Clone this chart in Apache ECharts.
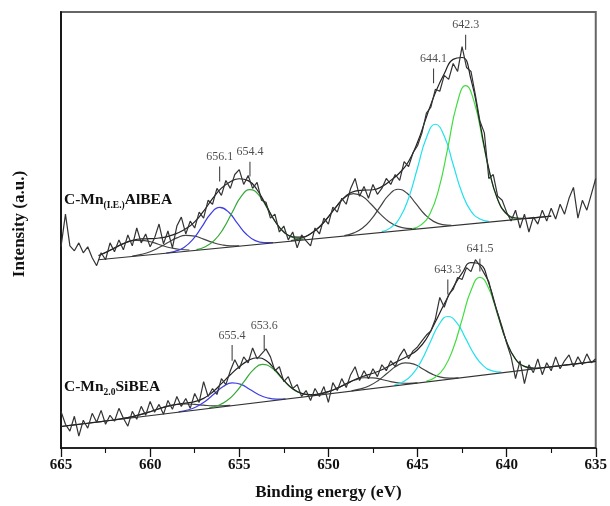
<!DOCTYPE html>
<html>
<head>
<meta charset="utf-8">
<script src="https://cdn.jsdelivr.net/npm/echarts@6/dist/echarts.min.js"></script>
<style>html,body{margin:0;padding:0;background:#fff;}#chart{width:610px;height:506px;}</style>
</head>
<body>
<div id="chart"></div>
<script>
// ---------- data (intensity in arbitrary units, binding energy in eV) ----------
const xTicks = [665, 660, 655, 650, 645, 640, 635];
const rawStart = 665, rawStep = 0.25;
const rawTop = [
  203, 236, 204, 199,  207, 197, 203, 192,  184, 197, 190, 207,  198, 210, 200, 215,
  204, 222, 207, 216,  203, 212, 226, 206,  219, 202, 224, 233,  216, 229, 222, 238,
  232, 250, 246, 262,  255, 270, 262, 276,  281, 266, 275, 262,  268, 250, 248, 232,
  236, 218, 224, 210,  218, 202, 215, 209,  204, 222, 216, 232,  226, 243, 238, 252,
  246, 262, 272, 254,  264, 252, 266, 256,  262, 272, 266, 276,  270, 289, 284, 298,
  305, 318, 338, 344,  362, 360, 376, 372,  388, 380, 405, 384,  380, 356, 330, 318,
  272, 276, 254, 250,  238, 229, 240, 222,  236, 218, 233, 226,  240, 229, 242, 231,
  246, 236, 252, 263,  232, 250, 240, 256,  272
];
const rawBottom = [
  37, 24, 17, 32,  12, 28, 20, 35,  26, 38, 24, 33,  27, 40, 30, 22,
  37, 29, 42, 33,  47, 36, 44, 34,  48, 39, 52, 42,  50, 40, 55, 46,
  67, 52, 60, 54,  70, 64, 78, 89,  80, 92, 86, 101, 90, 95, 100, 92,
  78, 82, 67, 72,  60, 64, 52, 58,  48, 60, 52, 62,  46, 66, 58, 70,
  61, 74, 82, 68,  78, 70, 80, 72,  84, 78, 88, 82,  93, 100, 90, 98,
  102, 108, 114, 118,  130, 152, 142, 155,  160, 172, 170, 182,  178, 190, 184, 176,
  168, 150, 136, 122,  106, 92, 70, 88,  65, 84, 76, 90,  74, 86, 78, 92,
  80, 88, 94, 82,  92, 84, 95, 86,  90
];
// linear backgrounds
const baseTop = [[662.9, 190], [637.5, 234]];
const baseBottom = [[665, 21.7], [635, 87.4]];
// fitted envelopes
const envTop = [[662.9,194.1],[662.5,197.3],[662,201.9],[661.5,206.3],[661,209.5],[660.5,211.0],[660,211.2],[659.5,211.9],[659,213.6],[658.5,216.6],[658,221.2],[657.5,228.2],[657,239.0],[656.5,251.6],[656,262.2],[655.5,268.7],[655,271.7],[654.5,269.8],[654,260.6],[653.5,245.1],[653,229.1],[652.5,218.0],[652,213.1],[651.5,212.8],[651,216.3],[650.5,223.2],[650,233.3],[649.5,244.9],[649,254.5],[648.5,259.3],[648,260.2],[647.5,260.6],[647,263.8],[646.5,270.1],[646,277.8],[645.5,289.2],[645,308.5],[644.5,334.1],[644,358.4],[643.5,377.7],[643,392.2],[642.5,394.1],[642,372.0],[641.5,328.1],[641,282.0],[640.5,250.8],[640,236.4],[639.5,232.1],[639,231.7],[638.5,232.2],[638,233.1],[637.5,234.0]];
const envBottom = [[665,21.7],[664.5,22.8],[664,23.9],[663.5,25.0],[663,26.1],[662.5,27.3],[662,28.5],[661.5,29.9],[661,31.7],[660.5,33.9],[660,36.6],[659.5,39.6],[659,42.2],[658.5,44.1],[658,45.3],[657.5,46.8],[657,50.1],[656.5,56.3],[656,64.9],[655.5,73.9],[655,81.9],[654.5,88.2],[654,91.1],[653.5,88.2],[653,79.4],[652.5,68.5],[652,59.8],[651.5,55.1],[651,53.8],[650.5,54.7],[650,56.9],[649.5,60.4],[649,64.8],[648.5,69.1],[648,72.6],[647.5,75.4],[647,78.9],[646.5,83.7],[646,88.6],[645.5,93.1],[645,99.2],[644.5,110.3],[644,127.2],[643.5,145.4],[643,161.9],[642.5,176.5],[642,187.0],[641.5,185.5],[641,166.1],[640.5,135.5],[640,107.3],[639.5,89.7],[639,82.4],[638.5,80.6],[638,81.0],[637.5,81.9],[637,83.0],[636.5,84.1],[636,85.2],[635.5,86.3],[635,87.4]];
// fitted components, C-Mn(I.E.)AlBEA
const topGray1 = [[662.8,194.9],[662.3,199.0],[661.8,203.7],[661.3,207.6],[660.8,209.6],[660.3,209.3],[659.8,207.2],[659.3,204.2],[658.8,201.8],[658.3,200.3],[657.8,199.8]];
const topGray2 = [[661,193.7],[660.5,195.4],[660,198.1],[659.5,202.3],[659,207.4],[658.5,212.0],[658,214.5],[657.5,213.8],[657,210.8],[656.5,207.5],[656,205.1],[655.5,204.0],[655,204.1]];
const topBlue = [[659.1,196.8],[658.6,198.5],[658.1,202.4],[657.6,210.5],[657.1,223.1],[656.6,236.4],[656.1,242.8],[655.6,238.1],[655.1,226.6],[654.6,215.7],[654.1,209.3],[653.6,207.2],[653.1,207.2]];
const topGreen1 = [[657.4,200.2],[656.9,203.1],[656.4,209.5],[655.9,221.1],[655.4,237.6],[654.9,253.6],[654.4,260.7],[653.9,255.3],[653.4,241.1],[652.9,226.3],[652.4,216.4],[651.9,211.8],[651.4,210.6]];
const topGray3 = [[652.1,209.2],[651.6,211.3],[651.1,215.0],[650.6,221.5],[650.1,231.1],[649.6,242.5],[649.1,252.4],[648.6,256.8],[648.1,254.1],[647.6,246.0],[647.1,236.3],[646.6,228.4],[646.1,223.7],[645.6,221.7],[645.1,221.3]];
const topGray4 = [[649.1,214.4],[648.6,216.9],[648.1,221.7],[647.6,230.7],[647.1,243.4],[646.6,255.5],[646.1,261.1],[645.6,257.3],[645.1,246.8],[644.6,235.9],[644.1,228.7],[643.6,225.5],[643.1,224.8]];
const topCyan = [[647,218.4],[646.5,222.4],[646,232.1],[645.5,252.1],[645,282.6],[644.5,313.1],[644,326.7],[643.5,314.8],[643,286.1],[642.5,257.3],[642,239.0],[641.5,231.1],[641,228.8]];
const topGreen2 = [[645.3,221.3],[644.8,225.2],[644.3,236.3],[643.8,261.7],[643.3,302.9],[642.8,346.2],[642.3,365.7],[641.8,347.9],[641.3,306.4],[640.8,266.9],[640.3,243.2],[639.8,233.9],[639.3,231.7]];
// fitted components, C-Mn2.0SiBEA
const botGray1 = [[661.5,29.9],[661,31.7],[660.5,33.9],[660,36.6],[659.5,39.6],[659,42.2],[658.5,43.9],[658,44.4],[657.5,44.0],[657,43.2],[656.5,42.6],[656,42.6],[655.5,43.0]];
const botBlue = [[658.4,36.5],[657.9,38.3],[657.4,41.7],[656.9,47.2],[656.4,54.7],[655.9,62.0],[655.4,65.7],[654.9,64.2],[654.4,59.1],[653.9,53.8],[653.4,50.5],[652.9,49.3],[652.4,49.6]];
const botGreen1 = [[656.7,40.4],[656.2,42.9],[655.7,47.6],[655.2,56.1],[654.7,67.8],[654.2,79.1],[653.7,84.4],[653.2,81.2],[652.7,72.1],[652.2,62.6],[651.7,56.3],[651.2,53.8],[650.7,53.5]];
const botGray2 = [[651,52.7],[650.5,54.4],[650,56.9],[649.5,60.4],[649,64.7],[648.5,68.6],[648,70.9],[647.5,70.8],[647,69.1],[646.5,67.0],[646,65.6],[645.5,65.3],[645,65.8]];
const botGray3 = [[648.7,57.7],[648.2,59.6],[647.7,62.8],[647.2,68.2],[646.7,75.4],[646.2,82.4],[645.7,86.0],[645.2,84.6],[644.7,79.8],[644.2,74.8],[643.7,71.5],[643.2,70.5],[642.7,70.8]];
const botCyan = [[646.3,63.5],[645.8,66.8],[645.3,74.1],[644.8,87.4],[644.3,106.2],[643.8,124.4],[643.3,132.7],[642.8,126.6],[642.3,110.6],[641.8,94.0],[641.3,82.9],[640.8,77.8],[640.3,76.6]];
const botGreen2 = [[644.5,67.5],[644,71.5],[643.5,81.0],[643,100.4],[642.5,129.6],[642,158.9],[641.5,172.2],[641,160.9],[640.5,134.0],[640,107.0],[639.5,89.7],[639,82.4],[638.5,80.6]];
// peak annotations
const annE    = [656.1, 654.4, 644.1, 642.3, 655.4, 653.6, 643.3, 641.5];
const annText = ['656.1', '654.4', '644.1', '642.3', '655.4', '653.6', '643.3', '641.5'];
const annLow  = [269, 274, 368, 402, 88, 99, 155, 178];
const annHigh = [284, 289, 383, 417, 104, 114, 170, 191];

// ---------- chart ----------
const FONT = "'Liberation Serif', 'Times New Roman', serif";
const GRAY = '#444', BLUE = '#3e3ee6', GREEN_D = '#36a836', GREEN_L = '#42dc42', CYAN = '#22e0ee';

function curve(data, color, z, smooth, width) {
  return { type: 'line', data: data, symbol: 'none', showSymbol: false, smooth: smooth,
    lineStyle: { color: color, width: width || 1.2 }, z: z, silent: true, animation: false };
}

const series = [
  curve(topGray1, GRAY, 2, true), curve(topGray2, GRAY, 2, true), curve(topBlue, BLUE, 2, true),
  curve(topGreen1, GREEN_D, 2, true), curve(topGray3, GRAY, 2, true), curve(topGray4, GRAY, 2, true),
  curve(topCyan, CYAN, 2, true), curve(topGreen2, GREEN_L, 2, true),
  curve(botGray1, GRAY, 2, true), curve(botBlue, BLUE, 2, true), curve(botGreen1, GREEN_D, 2, true),
  curve(botGray2, GRAY, 2, true), curve(botGray3, GRAY, 2, true), curve(botCyan, CYAN, 2, true),
  curve(botGreen2, GREEN_L, 2, true),
  curve(baseTop, '#333', 3, false), curve(baseBottom, '#333', 3, false),
  curve(envTop, '#222', 4, true, 1.2), curve(envBottom, '#222', 4, true, 1.2),
  curve(rawTop.map((v, i) => [rawStart - i * rawStep, v]), '#333', 5, false, 1.2),
  curve(rawBottom.map((v, i) => [rawStart - i * rawStep, v]), '#333', 5, false, 1.2)
];
annE.forEach((e, i) => {
  series.push({ type: 'line', data: [[e, annLow[i]], [e, annHigh[i]]], symbol: 'none', showSymbol: false,
    lineStyle: { color: '#444', width: 1.1 }, z: 6, silent: true, animation: false });
});
series.push({
  type: 'scatter', symbolSize: 1, itemStyle: { color: 'rgba(0,0,0,0)' }, z: 7, silent: true, animation: false,
  data: annE.map((e, i) => ({ value: [e, annHigh[i]], name: annText[i] })),
  label: { show: true, position: 'top', distance: 3, formatter: p => p.name,
    fontFamily: FONT, fontSize: 12, color: '#222' }
});

const chart = echarts.init(document.getElementById('chart'), null, { renderer: 'canvas' });
chart.setOption({
  backgroundColor: '#fff',
  animation: false,
  grid: { left: 61, right: 13, top: 12, bottom: 54, show: true, borderColor: '#666', borderWidth: 2 },
  xAxis: {
    type: 'value', min: 635, max: 665, interval: 5, inverse: true,
    axisLine: { show: true, lineStyle: { color: '#111', width: 1.6 } },
    axisTick: { show: true, length: 9, lineStyle: { color: '#111', width: 1.3 } },
    minorTick: { show: true, splitNumber: 2, length: 5, lineStyle: { color: '#111', width: 1.1 } },
    splitLine: { show: false }, minorSplitLine: { show: false },
    axisLabel: { margin: 10, fontFamily: FONT, fontWeight: 'bold', fontSize: 15, color: '#111',
      showMinLabel: true, showMaxLabel: true, formatter: v => xTicks.indexOf(v) >= 0 ? String(v) : '' },
    name: 'Binding energy (eV)', nameLocation: 'middle', nameGap: 36,
    nameTextStyle: { fontFamily: FONT, fontWeight: 'bold', fontSize: 17, color: '#111' }
  },
  yAxis: {
    type: 'value', min: 0, max: 440,
    axisLine: { show: true, lineStyle: { color: '#111', width: 1.8 } },
    axisTick: { show: false }, axisLabel: { show: false }, splitLine: { show: false },
    name: 'Intensity (a.u.)', nameLocation: 'middle', nameGap: 33, nameRotate: 90,
    nameTextStyle: { fontFamily: FONT, fontWeight: 'bold', fontSize: 17, color: '#111', padding: [0, 0, 0, 12] }
  },
  graphic: [
    { type: 'text', left: 64, top: 192, silent: true,
      style: { text: '{m|C-Mn}{s|(I.E.)}{m|AlBEA}', fill: '#111',
        rich: { m: { fontFamily: FONT, fontWeight: 'bold', fontSize: 15.5, lineHeight: 21, fill: '#111' },
                s: { fontFamily: FONT, fontWeight: 'bold', fontSize: 9.5, lineHeight: 21, verticalAlign: 'bottom', fill: '#111' } } } },
    { type: 'text', left: 64, top: 379, silent: true,
      style: { text: '{m|C-Mn}{s|2.0}{m|SiBEA}', fill: '#111',
        rich: { m: { fontFamily: FONT, fontWeight: 'bold', fontSize: 15.5, lineHeight: 21, fill: '#111' },
                s: { fontFamily: FONT, fontWeight: 'bold', fontSize: 9.5, lineHeight: 21, verticalAlign: 'bottom', fill: '#111' } } } }
  ],
  series: series
});
</script>
</body>
</html>
